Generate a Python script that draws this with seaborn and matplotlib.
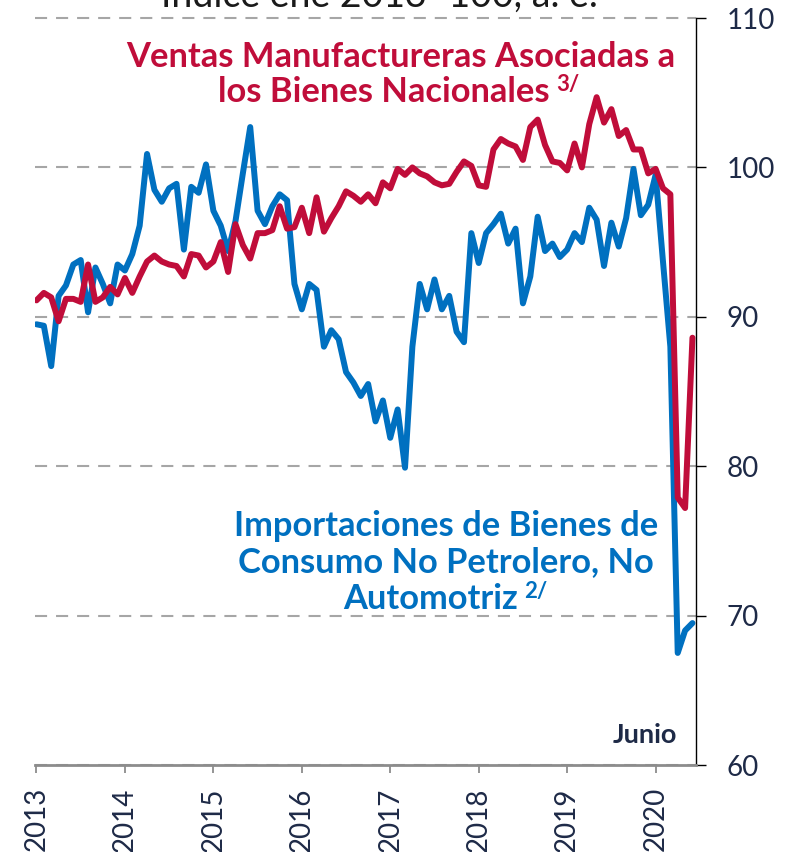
import numpy as np
import pandas as pd
import matplotlib
matplotlib.use("Agg")
import matplotlib.pyplot as plt
import seaborn as sns

# ---------------- data ----------------
fechas = pd.date_range("2013-01-01", "2020-06-01", freq="MS")

ventas_manufactureras = [
    91.1, 91.6, 91.3, 89.7, 91.2, 91.2, 91.0, 93.5, 91.0, 91.3, 92.0, 91.5,
    92.6, 91.6, 92.7, 93.7, 94.1, 93.7, 93.5, 93.4, 92.7, 94.2, 94.1, 93.3,
    93.7, 95.0, 93.0, 96.2, 94.8, 93.9, 95.6, 95.6, 95.8, 97.4, 95.9, 96.0,
    97.3, 95.6, 98.0, 95.7, 96.6, 97.4, 98.4, 98.1, 97.7, 98.2, 97.6, 99.0,
    98.6, 99.9, 99.5, 100.0, 99.6, 99.4, 99.0, 98.8, 98.9, 99.7, 100.4, 100.1,
    98.8, 98.7, 101.2, 101.9, 101.6, 101.4, 100.5, 102.7, 103.2, 101.5, 100.4, 100.3,
    99.8, 101.6, 100.0, 102.9, 104.7, 103.0, 103.9, 102.1, 102.5, 101.2, 101.2, 99.6,
    99.9, 98.6, 98.2, 77.9, 77.2, 88.6,
]

importaciones_consumo = [
    89.5, 89.4, 86.7, 91.4, 92.1, 93.5, 93.8, 90.3, 93.3, 92.2, 90.9, 93.5,
    93.1, 94.2, 96.1, 100.9, 98.5, 97.7, 98.6, 98.9, 94.5, 98.7, 98.3, 100.2,
    97.1, 96.1, 94.4, 96.4, 99.6, 102.7, 97.1, 96.2, 97.4, 98.2, 97.8, 92.2,
    90.5, 92.2, 91.8, 88.0, 89.1, 88.5, 86.3, 85.6, 84.7, 85.5, 83.0, 84.4,
    81.9, 83.8, 79.9, 88.0, 92.2, 90.5, 92.5, 90.5, 91.4, 89.0, 88.3, 95.6,
    93.6, 95.6, 96.2, 96.9, 94.9, 95.9, 90.9, 92.7, 96.7, 94.4, 94.9, 94.0,
    94.5, 95.6, 95.0, 97.3, 96.5, 93.4, 96.3, 94.7, 96.6, 99.9, 96.8, 97.5,
    99.5, 93.7, 88.0, 67.5, 69.0, 69.5,
]

anios = ["2013", "2014", "2015", "2016", "2017", "2018", "2019", "2020"]
ticks_y = [60, 70, 80, 90, 100, 110]

titulo = "Índice ene 2013=100, a. e."
etiqueta_ventas = ["Ventas Manufactureras Asociadas a", "los Bienes Nacionales"]
nota_ventas = "3/"
etiqueta_import = ["Importaciones de Bienes de", "Consumo No Petrolero, No", "Automotriz"]
nota_import = "2/"
etiqueta_fin = "Junio"

df = pd.DataFrame({
    "fecha": fechas,
    "mes": np.arange(len(fechas)),
    "ventas": ventas_manufactureras,
    "importaciones": importaciones_consumo,
})

# ---------------- style ----------------
ROJO = "#C00D3A"
AZUL = "#0070C0"
NAVY = "#1E2A47"
GRIS = "#A6A6A6"

sns.set_theme(style="white")
plt.rcParams["font.family"] = ["Lato", "DejaVu Sans"]

W, H = 791, 852
fig = plt.figure(figsize=(W / 100, H / 100), dpi=100)
ax = fig.add_axes([35 / W, 1 - 765 / H, (696 - 35) / W, (765 - 18) / H])

sns.lineplot(data=df, x="mes", y="importaciones", color=AZUL, linewidth=4.3, ax=ax)
sns.lineplot(data=df, x="mes", y="ventas", color=ROJO, linewidth=4.3, ax=ax)

ax.set_xlim(-0.2, 89.48)
ax.set_ylim(60, 110)
ax.set_xlabel("")
ax.set_ylabel("")

ax.set_xticks(np.arange(0, len(anios) * 12, 12))
ax.set_xticklabels(anios, rotation=90)
ax.set_yticks(ticks_y)
ax.yaxis.tick_right()

ax.tick_params(axis="x", bottom=True, length=6, width=1.3, color="#8C8C8C",
               labelsize=20, labelcolor=NAVY, pad=10)
ax.tick_params(axis="y", right=True, left=False, length=7.2, width=1.0, color="black",
               labelsize=20, labelcolor=NAVY, pad=15)

ax.set_axisbelow(True)
ax.yaxis.grid(True, color=GRIS, linestyle=(0, (5.8, 4.3)), linewidth=1.5)
ax.xaxis.grid(False)
for gl in ax.get_ygridlines():
    gl.set_clip_on(False)

for s in ["left", "top"]:
    ax.spines[s].set_visible(False)
ax.spines["right"].set_color("black")
ax.spines["right"].set_linewidth(1.0)
ax.spines["bottom"].set_color("#8C8C8C")
ax.spines["bottom"].set_linewidth(2.0)

# ---------------- texts ----------------
def fx(px):
    return px / W

def fy(py):
    return 1 - py / H

FS = 24.8

fig.text(fx(379), fy(7), titulo, ha="center", va="baseline", fontsize=27, color="#1a1a1a")

fig.text(fx(401), fy(66.7), etiqueta_ventas[0], ha="center", va="baseline",
         fontsize=FS, fontweight="bold", color=ROJO)
t_v2 = fig.text(fx(384), fy(102), etiqueta_ventas[1], ha="center", va="baseline",
                fontsize=FS, fontweight="bold", color=ROJO)

fig.text(fx(446), fy(536), etiqueta_import[0], ha="center", va="baseline",
         fontsize=FS, fontweight="bold", color=AZUL)
fig.text(fx(446), fy(572), etiqueta_import[1], ha="center", va="baseline",
         fontsize=FS, fontweight="bold", color=AZUL)
t_i3 = fig.text(fx(431), fy(609), etiqueta_import[2], ha="center", va="baseline",
                fontsize=FS, fontweight="bold", color=AZUL)

fig.text(fx(677), fy(743), etiqueta_fin, ha="right", va="baseline",
         fontsize=19.5, fontweight="bold", color=NAVY)

fig.canvas.draw()
r = fig.canvas.get_renderer()
for t, nota, col in [(t_v2, nota_ventas, ROJO), (t_i3, nota_import, AZUL)]:
    bb = t.get_window_extent(renderer=r)
    x0 = bb.x1 + 6
    ybase = t.get_position()[1] * H
    fig.text(x0 / W, (ybase + 11) / H, nota, ha="left", va="baseline",
             fontsize=16, fontweight="bold", color=col)

fig.savefig("out.png", dpi=100)
